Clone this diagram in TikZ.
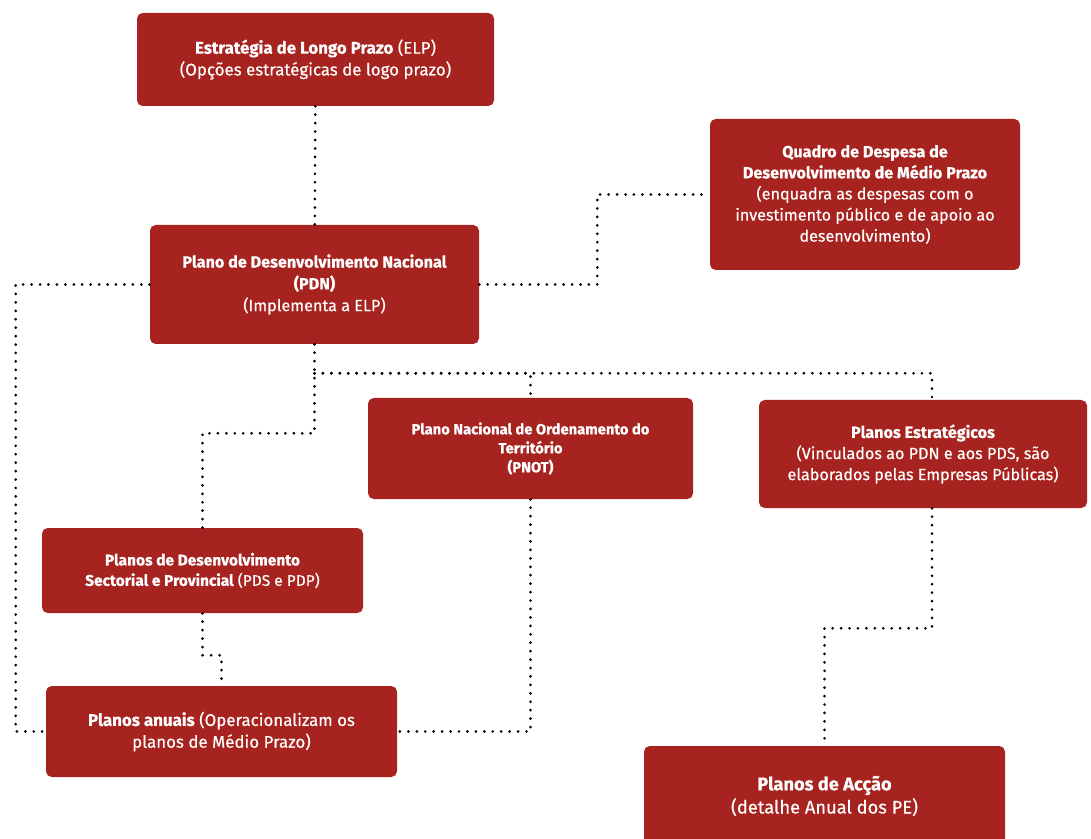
\documentclass[tikz,border=0pt]{standalone}
\usepackage{fontspec}
\setmainfont{Fira Sans}[UprightFeatures={FakeBold=0.4}, BoldFeatures={FakeBold=0.6}]
\usetikzlibrary{calc}
\definecolor{boxred}{RGB}{167,35,31}
\tikzset{
  plan/.style={fill=boxred, rounded corners=4pt, text=white, align=center,
               inner sep=2pt, font=\fontsize{12}{15.5}\selectfont},
  link/.style={line width=2.1pt, dash pattern=on 0pt off 6pt, line cap=round}
}
\begin{document}
\begin{tikzpicture}[x=0.025cm, y=-0.025cm]
                \useasboundingbox (0,0) rectangle (1091,839);

                % the plans
                \node[plan, minimum width=357*0.025cm, minimum height=93*0.025cm] (elp) at (315.5,59.5)
                  {\textbf{Estratégia de Longo Prazo} (ELP)\\(Opções estratégicas de logo prazo)};
                \node[plan, minimum width=310*0.025cm, minimum height=151*0.025cm,
                      font=\fontsize{11.5}{15}\selectfont] (qd) at (865,194.5)
                  {\textbf{Quadro de Despesa de}\\\textbf{Desenvolvimento de Médio Prazo}\\(enquadra as despesas com o\\investimento público e de apoio ao\\desenvolvimento)};
                \node[plan, minimum width=329*0.025cm, minimum height=119*0.025cm,
                      font=\fontsize{11.5}{15.5}\selectfont] (pdn) at (314.5,284.5)
                  {\textbf{Plano de Desenvolvimento Nacional}\\\textbf{(PDN)}\\(Implementa a ELP)};
                \node[plan, minimum width=325*0.025cm, minimum height=101*0.025cm,
                      font=\fontsize{10.5}{13.5}\selectfont] (pnot) at (530.5,448.5)
                  {\textbf{Plano Nacional de Ordenamento do}\\\textbf{Território}\\\textbf{(PNOT)}};
                \node[plan, minimum width=328*0.025cm, minimum height=108*0.025cm,
                      font=\fontsize{11.5}{15}\selectfont] (pe) at (923,454)
                  {\textbf{Planos Estratégicos}\\(Vinculados ao PDN e aos PDS, são\\elaborados pelas Empresas Públicas)};
                \node[plan, minimum width=321*0.025cm, minimum height=85*0.025cm,
                      font=\fontsize{11}{14.5}\selectfont] (pds) at (202.5,570.5)
                  {\textbf{Planos de Desenvolvimento}\\\textbf{Sectorial e Provincial} (PDS e PDP)};
                \node[plan, minimum width=351*0.025cm, minimum height=91*0.025cm] (anual) at (221.5,731.5)
                  {\textbf{Planos anuais} (Operacionalizam os\\planos de Médio Prazo)};
                \node[plan, minimum width=361*0.025cm, minimum height=100*0.025cm,
                      font=\fontsize{13}{16.5}\selectfont] (acao) at (824.5,796)
                  {\textbf{Planos de Acção}\\(detalhe Anual dos PE)};

                % the dotted links
                \draw [link] (elp)        --   (pdn);
                \draw [link] (pdn.east)   --   ++(118,0) |- (qd.west);
                \draw [link] (pdn.west)   --   ++(-134,0) |- (anual.west);
                \draw [link] (pdn.south)  --   ++(0,89) -| (pds.north);
                \draw [link] ($(pdn.south)+(0,29)$) -| (pnot.north);
                \draw [link] ($(pdn.south)+(0,29)$) -| ($(pe.north)+(9,0)$);
                \draw [link] (pds.south)  --   ++(0,42) -| (anual.north);
                \draw [link] (pnot.south) |-   (anual.east);
                \draw [link] ($(pe.south)+(9,0)$) -- ++(0,120) -| (acao.north);
              \end{tikzpicture}
\end{document}
